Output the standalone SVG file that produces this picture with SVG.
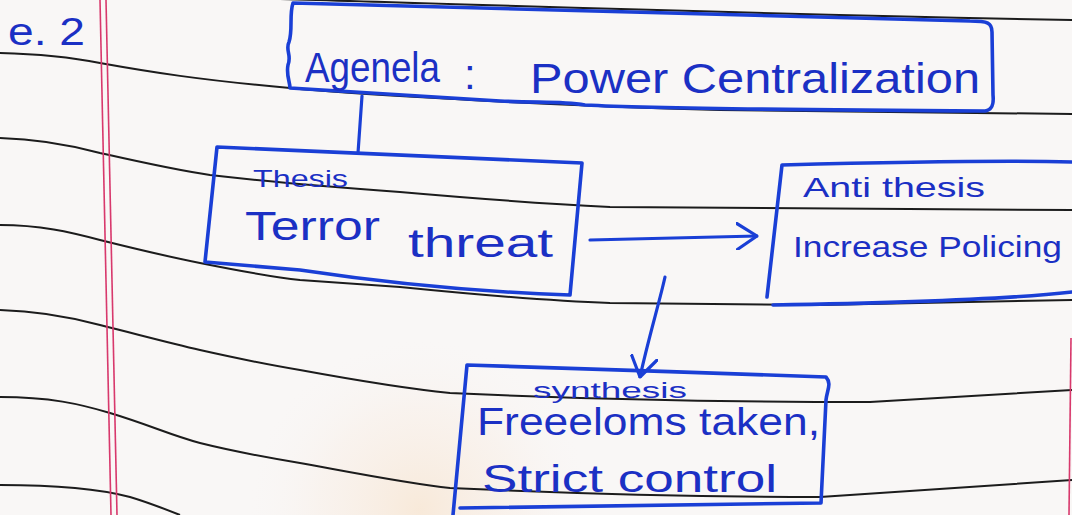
<svg xmlns="http://www.w3.org/2000/svg" width="1072" height="515" viewBox="0 0 1072 515">
  <defs>
    <radialGradient id="stain" cx="420" cy="510" r="170" gradientUnits="userSpaceOnUse">
      <stop offset="0" stop-color="#f7e0c6" stop-opacity="0.6"/>
      <stop offset="0.6" stop-color="#f8e9dc" stop-opacity="0.3"/>
      <stop offset="1" stop-color="#f8f3f2" stop-opacity="0"/>
    </radialGradient>
    <marker id="chev" viewBox="0 0 22 28" refX="21" refY="14" markerWidth="22" markerHeight="28" markerUnits="userSpaceOnUse" orient="auto">
      <path d="M1,1 L21,14 L1,27" fill="none" stroke="#1a3fd6" stroke-width="3.2" stroke-linecap="round" stroke-linejoin="round"/>
    </marker>
  </defs>
  <style>
    .rule { fill: none; stroke: #1c1c1c; stroke-width: 2; stroke-linejoin: round; }
    .margin { fill: none; stroke: #d8386c; stroke-width: 1.6; }
    .box { fill: none; stroke: #1a3fd6; stroke-width: 3.6; stroke-linejoin: round; stroke-linecap: round; }
    .conn { fill: none; stroke: #1a3fd6; stroke-width: 3.2; stroke-linecap: round; }
    .hand { font-family: "Liberation Sans", "Open Sans", sans-serif; fill: #1b30c4; }
  </style>

  <!-- paper -->
  <rect x="0" y="0" width="1072" height="515" fill="#f9f7f6"/>
  <rect x="0" y="0" width="1072" height="515" fill="url(#stain)"/>

  <!-- ruled lines -->
  <g id="ruled-lines">
    <path class="rule" d="M280,-1 C500,5 700,13 1072,20"/>
    <path class="rule" d="M0,53 C40,54 70,57 100,63 C150,72 200,80 290,88 C350,94 420,97 470,100 C560,105 640,108 720,110 L1072,114"/>
    <path class="rule" d="M0,138 C40,139 70,145 100,153 C140,162 175,170 210,175 C280,183 330,187 400,192 C480,199 550,204 610,207 L1072,210"/>
    <path class="rule" d="M0,225 C40,225 70,232 100,240 C140,250 170,257 200,263 C240,271 270,277 300,280 C340,283 370,285 400,287 C480,295 550,301 610,303 L820,305 L1072,300"/>
    <path class="rule" d="M0,310 C40,311 70,317 100,325 C140,335 170,343 200,350 C240,359 270,365 300,370 C360,381 410,389 450,393 C600,400 750,402 870,402 L1072,390"/>
    <path class="rule" d="M0,397 C50,397 80,404 110,413 C150,425 170,435 200,443 C240,453 270,458 300,463 C360,474 410,484 450,488 C600,495 720,497 820,497 L1072,480"/>
    <path class="rule" d="M0,485 C50,485 100,489 130,497 C150,503 165,509 180,515"/>
  </g>
  <g id="margin-lines">
    <path class="margin" d="M100,0 L111,515"/>
    <path class="margin" d="M106,0 L117,515"/>
    <path class="margin" d="M1071,338 L1069,515"/>
  </g>

  <!-- page label -->
  <text class="hand" x="8" y="45" font-size="38" textLength="77" lengthAdjust="spacingAndGlyphs">e. 2</text>

  <!-- connectors -->
  <g id="connectors">
    <path class="conn" d="M362,96 L358,153"/>
    <path class="conn" d="M590,240 L757,236" marker-end="url(#chev)"/>
    <path class="conn" d="M665,277 C660,300 648,340 640,377" marker-end="url(#chev)"/>
  </g>

  <!-- nodes -->
  <g id="agenda">
    <path class="box" d="M293,3 C289,15 293,30 289,42 C285,50 292,55 288,65 C286,75 290,82 290,88 C330,90 420,96 500,101 C540,103 560,101 585,105 C640,108 800,110 985,111 C992,110 994,105 993,95 L992,32 C992,23 988,21 970,21 C800,17 600,12 293,3 Z"/>
    <text class="hand" font-size="42">
      <tspan x="305" y="82" textLength="135" lengthAdjust="spacingAndGlyphs">Agenela</tspan>
      <tspan x="464" y="89">:</tspan>
      <tspan x="530" y="93" textLength="450" lengthAdjust="spacingAndGlyphs">Power Centralization</tspan>
    </text>
  </g>

  <g id="thesis">
    <path class="box" d="M217,147 C330,153 450,158 582,163 L570,295 C480,292 400,285 300,270 L205,262 Z"/>
    <text class="hand" x="253" y="187" font-size="24" textLength="95" lengthAdjust="spacingAndGlyphs">Thesis</text>
    <text class="hand" font-size="40">
      <tspan x="245" y="240" textLength="135" lengthAdjust="spacingAndGlyphs">Terror</tspan>
      <tspan x="408" y="257" textLength="145" lengthAdjust="spacingAndGlyphs">threat</tspan>
    </text>
  </g>

  <g id="antithesis">
    <path class="box" d="M1072,162 C1000,160 900,162 782,165 L767,297"/>
    <path class="box" d="M773,305 C900,303 1000,300 1072,292"/>
    <text class="hand" x="803" y="197" font-size="28" textLength="182" lengthAdjust="spacingAndGlyphs">Anti thesis</text>
    <text class="hand" x="793" y="257" font-size="30" textLength="269" lengthAdjust="spacingAndGlyphs">Increase Policing</text>
  </g>

  <g id="synthesis">
    <path class="box" d="M453,515 L467,365 C600,370 700,372 826,377 C832,384 827,390 826,400 L821,503 L460,508"/>
    <text class="hand" x="533" y="398" font-size="22" textLength="154" lengthAdjust="spacingAndGlyphs">synthesis</text>
    <text class="hand" x="477" y="435" font-size="38" textLength="343" lengthAdjust="spacingAndGlyphs">Freeeloms taken,</text>
    <text class="hand" x="482" y="492" font-size="38" textLength="295" lengthAdjust="spacingAndGlyphs">Strict control</text>
  </g>
</svg>
